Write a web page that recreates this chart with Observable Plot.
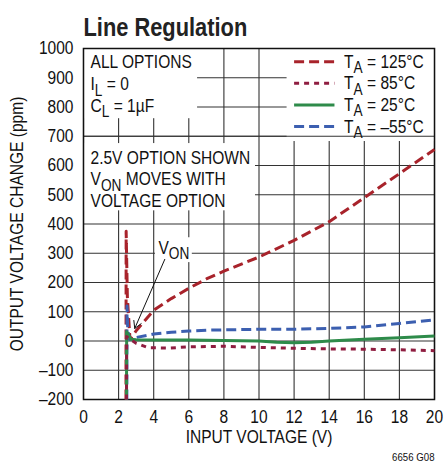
<!DOCTYPE html>
<html><head><meta charset="utf-8">
<script src="https://cdn.jsdelivr.net/npm/d3@7"></script>
<script src="https://cdn.jsdelivr.net/npm/@observablehq/plot@0.6"></script>
<style>body{margin:0;background:#fff}#chart svg{display:block}</style>
</head><body><div id="chart"></div>
<script>
// ---- data ----
const xTicks = [0, 2, 4, 6, 8, 10, 12, 14, 16, 18, 20];
const yTicks = [-200, -100, 0, 100, 200, 300, 400, 500, 600, 700, 800, 900, 1000];

const v125 = [2.42, 2.43, 2.5, 2.65, 3, 3.33, 4, 5, 6, 7, 8, 9, 10, 12, 14, 16, 18, 20];
const p125 = [-200, 375, 150, 5, 35, 58, 105, 145, 180, 212, 239, 263, 287, 344, 408, 490, 572, 655];

const v85 = [2.45, 2.46, 2.6, 3, 3.7, 4.9, 6, 8, 10, 12, 14, 16, 18, 20];
const p85 = [-200, 15, 8, -8, -23, -24, -20, -18, -22, -25, -27, -28, -30, -33];

const v25 = [2.45, 2.46, 2.55, 2.7, 3, 4, 6, 8, 9, 10, 11, 12, 13, 14, 16, 18, 20];
const p25 = [-200, 32, 22, 6, 4, 3, 3, 2, 1, 0, -4, -6, -4, 0, 6, 11, 17];

const vm55 = [2.47, 2.48, 2.52, 2.62, 2.8, 3, 4, 5, 6, 7, 8, 10, 12, 14, 16, 18, 20];
const pm55 = [-200, 120, 40, 5, 7, 12, 24, 30, 34, 37, 38, 40, 40, 43, 48, 60, 72];

const seriesLabels = ["T_{A} = 125°C", "T_{A} = 85°C", "T_{A} = 25°C", "T_{A} = –55°C"];
const note1 = ["ALL OPTIONS", "I_{L} = 0", "C_{L} = 1µF"];
const note2 = ["2.5V OPTION SHOWN", "V_{ON} MOVES WITH", "VOLTAGE OPTION"];
const vonLabel = ["V_{ON}"];
const title = ["Line Regulation"];
const xLabel = ["INPUT VOLTAGE (V)"];
const yLabel = ["OUTPUT VOLTAGE CHANGE (ppm)"];
const footnote = ["6656 G08"];

// ---- styles / layout ----
const FONT = "'Liberation Sans', Arial, sans-serif";
const CONDENSE = 0.84;
const styles = [
  {color: "#a8232b", dash: "10,5", width: 3},
  {color: "#8f1d40", dash: "5,5", width: 3},
  {color: "#2e8b4a", dash: null, width: 3},
  {color: "#3c5fb0", dash: "10,5", width: 3}
];
const drawOrder = [0, 3, 2, 1];
const boxes = [
  {x1: 0, x2: 6.5, y1: 760, y2: 1000},
  {x1: 0, x2: 9.8, y1: 445, y2: 675},
  {x1: 11.6, x2: 20, y1: 682, y2: 1000},
  {x1: 4.1, x2: 6.2, y1: 268, y2: 353}
];
const legend = {x1: 12, x2: 14.3, xt: 14.85, top: 955, step: 74};
const note1Pos = {x: 0.4, top: 952, step: 74};
const note2Pos = {x: 0.4, top: 626, step: 74};
const vonPos = {x: 5.15, y: 318};
const arrowPos = {x1: 4.63, y1: 279, x2: 2.92, y2: 43};

const series = seriesLabels.map((name, i) => ({
  name,
  rows: [v125, v85, v25, vm55][i].map((v, j) => ({v, p: [p125, p85, p25, pm55][i][j]})),
  ...styles[i]
}));

const grid = {stroke: "#333", strokeOpacity: 1, strokeWidth: 1.1};
const marks = [
  Plot.gridX(xTicks, grid),
  Plot.gridY(yTicks, grid),
  Plot.rect(boxes, {x1: "x1", x2: "x2", y1: "y1", y2: "y2", fill: "white"}),
  Plot.gridY(yTicks.filter(d => d === 700), grid),
  Plot.frame({stroke: "#111", strokeWidth: 1.5})
];
for (const i of drawOrder) {
  const s = series[i];
  marks.push(Plot.line(s.rows, {x: "v", y: "p", stroke: s.color, strokeWidth: s.width,
    strokeDasharray: s.dash || undefined, strokeLinejoin: "round", strokeLinecap: "butt"}));
}
series.forEach((s, i) => {
  const y = legend.top - i * legend.step;
  marks.push(Plot.link([s], {x1: () => legend.x1, x2: () => legend.x2, y1: () => y, y2: () => y,
    stroke: s.color, strokeWidth: s.width, strokeDasharray: s.dash || undefined}));
});
const TXT = {fontSize: 18.5, fill: "#111"};
marks.push(Plot.text(series, {x: () => legend.xt, y: (d, i) => legend.top - i * legend.step,
  text: "name", textAnchor: "start", ...TXT}));
marks.push(Plot.text(note1, {x: () => note1Pos.x, y: (d, i) => note1Pos.top - i * note1Pos.step,
  text: d => d, textAnchor: "start", ...TXT}));
marks.push(Plot.text(note2, {x: () => note2Pos.x, y: (d, i) => note2Pos.top - i * note2Pos.step,
  text: d => d, textAnchor: "start", ...TXT}));
marks.push(Plot.text(vonLabel, {x: () => vonPos.x, y: () => vonPos.y, text: d => d,
  textAnchor: "middle", ...TXT}));
marks.push(Plot.arrow([arrowPos], {x1: "x1", y1: "y1", x2: "x2", y2: "y2", stroke: "#111",
  strokeWidth: 1, headLength: 12, bend: 0}));
marks.push(Plot.text(title, {frameAnchor: "top-left", dy: -31, text: d => d, textAnchor: "start",
  fontSize: 26, fontWeight: "bold", fill: "#222"}));
marks.push(Plot.text(xLabel, {frameAnchor: "bottom", dy: 43, text: d => d, textAnchor: "middle", ...TXT}));
marks.push(Plot.text(yLabel, {frameAnchor: "left", dx: -66, rotate: -90, text: d => d, textAnchor: "middle", ...TXT}));
marks.push(Plot.text(footnote, {frameAnchor: "bottom-right", dy: 61, text: d => d, textAnchor: "end",
  fontSize: 11.5, fill: "#111"}));

const tickFmt = d => d < 0 ? "–" + (-d) : String(d);
const chart = Plot.plot({
  width: 446, height: 465,
  marginLeft: 83, marginRight: 12, marginTop: 48, marginBottom: 66,
  style: {fontFamily: FONT, fontSize: "18.5px", color: "#111", background: "#fff"},
  x: {domain: [0, 20], ticks: xTicks, tickSize: 0, tickPadding: 10, label: null, tickFormat: tickFmt},
  y: {domain: [-200, 1000], ticks: yTicks, tickSize: 0, tickPadding: 10, label: null, tickFormat: tickFmt},
  marks
});

// subscripts
const NS = "http://www.w3.org/2000/svg";
d3.select(chart).selectAll("text").each(function () {
  const el = this;
  const s = el.textContent;
  if (!s.includes("_{")) return;
  while (el.firstChild) el.removeChild(el.firstChild);
  const re = /_\{([^}]*)\}/g;
  let last = 0, m, shifted = false;
  const SH = 5.5;
  const add = (txt, dy, small) => {
    const t = document.createElementNS(NS, "tspan");
    if (dy) t.setAttribute("dy", dy);
    if (small) t.setAttribute("font-size", "88%");
    t.textContent = txt;
    el.appendChild(t);
  };
  while ((m = re.exec(s))) {
    if (m.index > last) { add(s.slice(last, m.index), shifted ? -SH : 0, false); shifted = false; }
    add(m[1], SH, true); shifted = true;
    last = re.lastIndex;
  }
  if (last < s.length) add(s.slice(last), shifted ? -SH : 0, false);
});

// condensed lettering: horizontal scaling about each text's anchor point
chart.querySelectorAll("text").forEach(t => {
  const x = parseFloat(t.getAttribute("x")) || 0;
  const y = parseFloat(t.getAttribute("y")) || 0;
  const tr = t.getAttribute("transform") || "";
  t.setAttribute("transform", `${tr} translate(${x},${y}) scale(${CONDENSE},1) translate(${-x},${-y})`);
});

document.getElementById("chart").appendChild(chart);
</script></body></html>
